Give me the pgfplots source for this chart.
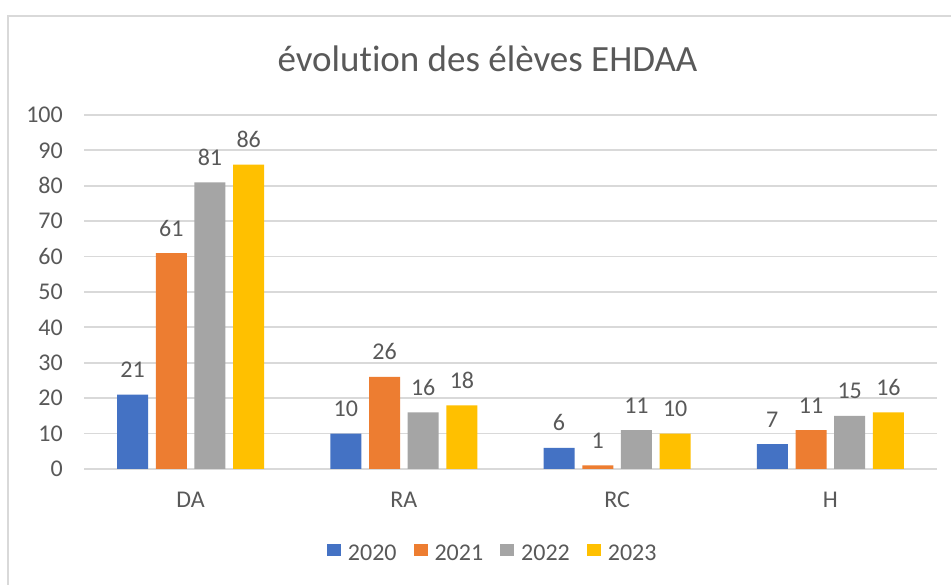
\documentclass[border=0pt]{standalone}
\usepackage{pgfplots}
\pgfplotsset{compat=1.18}
\usepackage{fontspec}
\setmainfont{Carlito}[Ligatures=CommonOff]
\definecolor{cblue}{HTML}{4472C4}
\definecolor{corange}{HTML}{ED7D31}
\definecolor{cgray}{HTML}{A5A5A5}
\definecolor{cyellow}{HTML}{FFC000}
\definecolor{ctext}{HTML}{595959}
\definecolor{cgrid}{HTML}{D9D9D9}
\begin{document}
\begin{tikzpicture}
\useasboundingbox (0pt,0pt) rectangle (951pt,585pt);
\fill[white] (0pt,0pt) rectangle (951pt,585pt);
\draw[cgrid, line width=1.5pt] (8pt,0pt) -- (8pt,569pt) -- (951pt,569pt);
\node[anchor=base, text=ctext, font=\fontsize{37}{44}\selectfont, inner sep=0pt] at (487.5pt,513pt) {évolution des élèves EHDAA};
\begin{axis}[
  at={(84pt,116pt)}, anchor=south west,
  scale only axis, width=853pt, height=354pt,
  ybar=7.7pt, bar width=31pt,
  xmin=-0.5, xmax=3.5, ymin=0, ymax=100,
  xtick={0,1,2,3}, xticklabels={DA,RA,RC,H},
  ytick={0,10,...,100},
  axis line style={draw=none},
  major tick length=0pt,
  ymajorgrids, grid style={cgrid, line width=1.8pt},
  tick label style={text=ctext, font=\fontsize{24}{28}\selectfont, inner sep=0pt},
  yticklabel style={anchor=east, xshift=-21pt},
  xticklabel style={anchor=north, yshift=-23pt},
  /pgf/number format/assume math mode=true,
  nodes near coords,
  every node near coord/.append style={text=ctext, font=\fontsize{24}{28}\selectfont, inner sep=0pt, anchor=base, yshift=17pt},
  legend columns=4,
  legend style={draw=none, fill=none, at={(axis description cs:0.478,-0.2373)}, anchor=center,
    font=\fontsize{24}{28}\selectfont, text=ctext,
    nodes={inner sep=0pt},
    /tikz/every odd column/.append style={column sep=7pt},
    /tikz/every even column/.append style={column sep=17pt}},
  legend image code/.code={\fill[#1] (0pt,-3pt) rectangle (14pt,9pt);},
]
\addplot[fill=cblue, draw=none] coordinates {(0,21) (1,10) (2,6) (3,7)};
\addplot[fill=corange, draw=none] coordinates {(0,61) (1,26) (2,1) (3,11)};
\addplot[fill=cgray, draw=none] coordinates {(0,81) (1,16) (2,11) (3,15)};
\addplot[fill=cyellow, draw=none] coordinates {(0,86) (1,18) (2,10) (3,16)};
\legend{2020,2021,2022,2023}
\end{axis}
\end{tikzpicture}
\end{document}
